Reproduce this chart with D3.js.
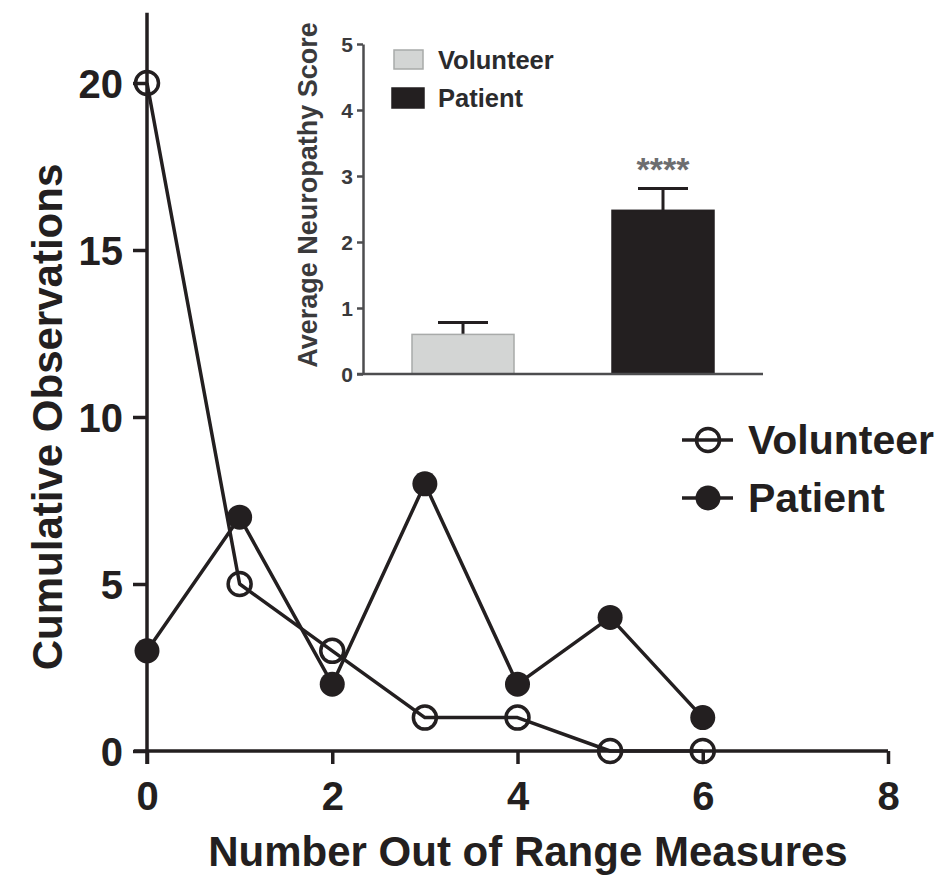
<!DOCTYPE html>
<html>
<head>
<meta charset="utf-8">
<script src="https://cdn.jsdelivr.net/npm/d3@7"></script>
<style>
  html, body { margin: 0; padding: 0; background: #fff; }
  svg { display: block; }
  text { font-family: "Liberation Sans", Arial, Helvetica, sans-serif; font-weight: bold; fill: #231f20; }
</style>
</head>
<body>
<svg id="chart" width="948" height="880"></svg>
<script>
// ---- Data ----
const xValues = [0, 1, 2, 3, 4, 5, 6];
const volunteerCounts = [20, 5, 3, 1, 1, 0, 0];
const patientCounts = [3, 7, 2, 8, 2, 4, 1];
const xTicks = [0, 2, 4, 6, 8];
const yTicks = [0, 5, 10, 15, 20];

const insetGroups = ["Volunteer", "Patient"];
const insetMeans = [0.6, 2.48];
const insetErrors = [0.18, 0.33];
const insetTicks = [0, 1, 2, 3, 4, 5];
const insetSignificance = ["", "****"];

const ink = "#231f20";
const svg = d3.select("#chart");

// ---- Main chart ----
const x = d3.scaleLinear().domain([0, 8]).range([147, 888]);
const y = d3.scaleLinear().domain([0, 20]).range([751, 83]);

// X axis
const xAxis = svg.append("g").attr("transform", `translate(0,${y(0)})`)
  .call(d3.axisBottom(x).tickValues(xTicks).tickSize(13).tickSizeOuter(0).tickPadding(18).tickFormat(d3.format("d")));
xAxis.select(".domain").attr("d", `M${x(0) - 13},0H${x(8)}`).attr("stroke", ink).attr("stroke-width", 3.5);
xAxis.selectAll(".tick line").attr("stroke", ink).attr("stroke-width", 3.5);
xAxis.selectAll(".tick text").attr("font-size", 40).attr("font-family", null).attr("fill", ink);

// Y axis
const yAxis = svg.append("g").attr("transform", `translate(${x(0)},0)`)
  .call(d3.axisLeft(y).tickValues(yTicks).tickSize(14).tickSizeOuter(0).tickPadding(10).tickFormat(d3.format("d")));
yAxis.select(".domain").attr("d", `M0,${y(0) + 13}V${y(22.1)}`).attr("stroke", ink).attr("stroke-width", 3.5);
yAxis.selectAll(".tick line").attr("stroke", ink).attr("stroke-width", 3.5);
yAxis.selectAll(".tick text").attr("font-size", 40).attr("font-family", null).attr("fill", ink).attr("dy", "0.36em");

// Axis titles
svg.append("text").attr("x", 528).attr("y", 866).attr("text-anchor", "middle")
  .attr("font-size", 42).text("Number Out of Range Measures");
svg.append("text").attr("transform", "translate(62,417) rotate(-90)").attr("text-anchor", "middle")
  .attr("font-size", 42).text("Cumulative Observations");

// Lines
const line = d3.line().x((d, i) => x(xValues[i])).y(d => y(d));
svg.append("path").datum(patientCounts).attr("d", line)
  .attr("fill", "none").attr("stroke", ink).attr("stroke-width", 3.5).attr("stroke-linejoin", "round");
svg.append("path").datum(volunteerCounts).attr("d", line)
  .attr("fill", "none").attr("stroke", ink).attr("stroke-width", 3.5).attr("stroke-linejoin", "round");

svg.append("g").selectAll("circle").data(patientCounts).join("circle")
  .attr("cx", (d, i) => x(xValues[i])).attr("cy", d => y(d)).attr("r", 12.5).attr("fill", ink);
svg.append("g").selectAll("circle").data(volunteerCounts).join("circle")
  .attr("cx", (d, i) => x(xValues[i])).attr("cy", d => y(d)).attr("r", 11.5)
  .attr("fill", "none").attr("stroke", ink).attr("stroke-width", 3.5);

// Main legend
const legend = svg.append("g");
[["Volunteer", 440, false], ["Patient", 498, true]].forEach(([label, ly, filled]) => {
  legend.append("line").attr("x1", 682).attr("x2", 733).attr("y1", ly).attr("y2", ly)
    .attr("stroke", ink).attr("stroke-width", 3.5);
  legend.append("circle").attr("cx", 708).attr("cy", ly).attr("r", filled ? 12.5 : 11.5)
    .attr("fill", filled ? ink : "none").attr("stroke", filled ? "none" : ink).attr("stroke-width", 3.5);
  legend.append("text").attr("x", 748).attr("y", ly + 14).attr("font-size", 41).text(label);
});

// ---- Inset bar chart ----
const insetInk = "#4d4d4f";
const ix = d3.scaleBand().domain(insetGroups).range([363, 763]).paddingInner(0.49).paddingOuter(0.245);
const iy = d3.scaleLinear().domain([0, 5]).range([374, 44]);
const barFill = ["#d3d5d4", ink];
const barStroke = ["#a8aaa9", ink];

const inset = svg.append("g");
// Error bars (behind bars)
insetGroups.forEach((g, i) => {
  const cx = ix(g) + ix.bandwidth() / 2;
  const capW = 50;
  inset.append("line").attr("x1", cx).attr("x2", cx).attr("y1", iy(insetMeans[i])).attr("y2", iy(insetMeans[i] + insetErrors[i]))
    .attr("stroke", ink).attr("stroke-width", 3);
  inset.append("line").attr("x1", cx - capW / 2).attr("x2", cx + capW / 2)
    .attr("y1", iy(insetMeans[i] + insetErrors[i])).attr("y2", iy(insetMeans[i] + insetErrors[i]))
    .attr("stroke", ink).attr("stroke-width", 3);
});
inset.selectAll("rect.bar").data(insetGroups).join("rect").attr("class", "bar")
  .attr("x", d => ix(d)).attr("width", ix.bandwidth())
  .attr("y", (d, i) => iy(insetMeans[i])).attr("height", (d, i) => iy(0) - iy(insetMeans[i]))
  .attr("fill", (d, i) => barFill[i]).attr("stroke", (d, i) => barStroke[i]).attr("stroke-width", 1.5);

// Significance
inset.selectAll("text.sig").data(insetGroups).join("text").attr("class", "sig")
  .attr("x", d => ix(d) + ix.bandwidth() / 2).attr("y", 181).attr("text-anchor", "middle")
  .attr("font-size", 34).attr("font-weight", "normal").style("fill", "#6d6e70")
  .text((d, i) => insetSignificance[i]);

// Inset axes
const iyAxis = inset.append("g").attr("transform", `translate(363,0)`)
  .call(d3.axisLeft(iy).tickValues(insetTicks).tickSize(6).tickSizeOuter(0).tickPadding(4).tickFormat(d3.format("d")));
iyAxis.select(".domain").attr("stroke", insetInk).attr("stroke-width", 2.5);
iyAxis.selectAll(".tick line").attr("stroke", insetInk).attr("stroke-width", 2.5);
iyAxis.selectAll(".tick text").attr("font-size", 21).attr("font-family", null).style("fill", "#3a3a3c").attr("dy", "0.36em");

inset.append("line").attr("x1", 357).attr("x2", 763).attr("y1", iy(0)).attr("y2", iy(0))
  .attr("stroke", insetInk).attr("stroke-width", 2.5);

inset.append("text").attr("transform", "translate(317,195) rotate(-90)").attr("text-anchor", "middle")
  .attr("font-size", 27).style("fill", "#3a3a3c").text("Average Neuropathy Score");

// Inset legend
const ileg = [
  { label: insetGroups[0], x: 394, y: 50, w: 29, h: 19, ty: 69 },
  { label: insetGroups[1], x: 392, y: 88, w: 32, h: 20, ty: 107 }
];
ileg.forEach((d, i) => {
  inset.append("rect").attr("x", d.x).attr("y", d.y).attr("width", d.w).attr("height", d.h)
    .attr("fill", barFill[i]).attr("stroke", barStroke[i]).attr("stroke-width", 1.5);
  inset.append("text").attr("x", 438).attr("y", d.ty).attr("font-size", 25.5).style("fill", "#2b2b2d").text(d.label);
});
</script>
</body>
</html>
